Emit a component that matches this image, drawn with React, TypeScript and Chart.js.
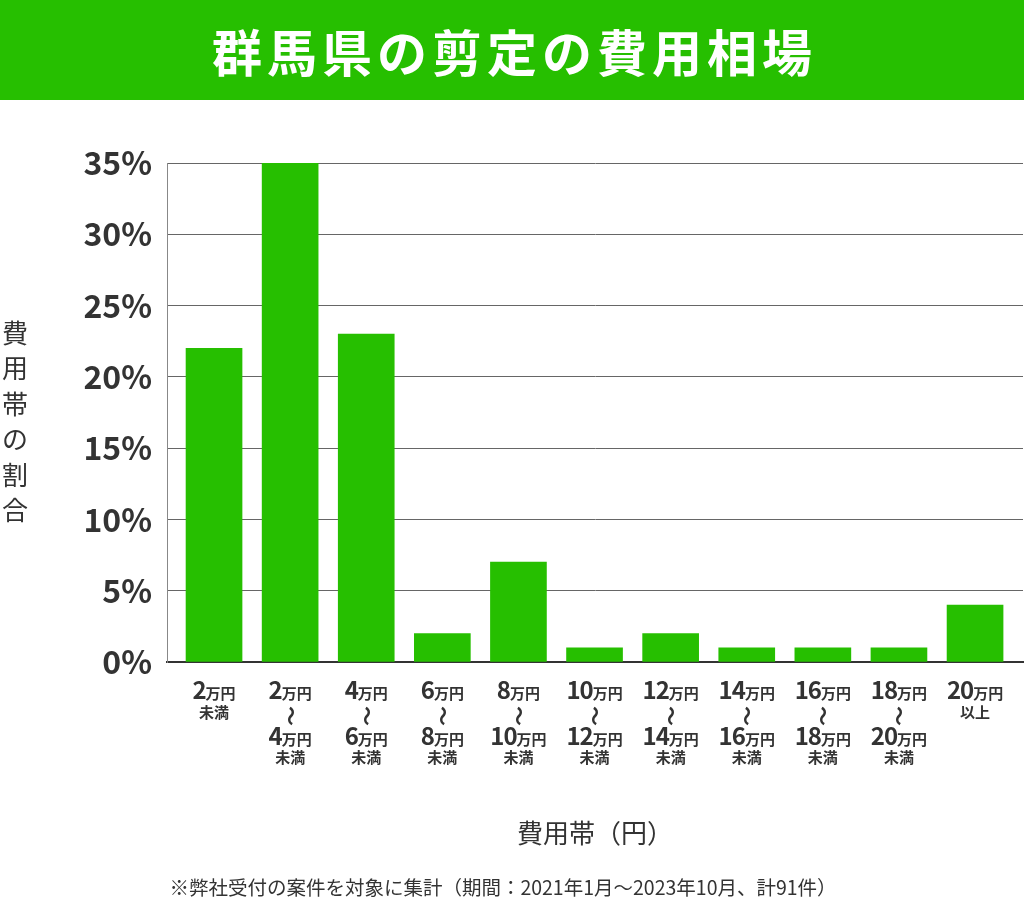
import React, { useEffect, useRef } from "react";
import { Chart, registerables } from "chart.js";

Chart.register(...registerables);

const title = "群馬県の剪定の費用相場";
const yAxisTitle = "費用帯の割合";
const xAxisTitle = "費用帯（円）";
const footnote = "※弊社受付の案件を対象に集計（期間：2021年1月～2023年10月、計91件）";

const rangeStart: (number | null)[] = [null, 2, 4, 6, 8, 10, 12, 14, 16, 18, 20];
const rangeEnd: (number | null)[] = [2, 4, 6, 8, 10, 12, 14, 16, 18, 20, null];
const categories = rangeStart.map((s, i) => {
  const e = rangeEnd[i];
  if (s === null) return `${e}万円未満`;
  if (e === null) return `${s}万円以上`;
  return `${s}万円～${e}万円未満`;
});
const shares = [22, 35, 23, 2, 7, 1, 2, 1, 1, 1, 4];
const yMax = 35;
const yStep = 5;

const GREEN = "#26bf00";
const TEXT = "#333333";
const FONT = '"Noto Sans CJK JP", "Noto Sans", sans-serif';

function drawAmount(ctx: CanvasRenderingContext2D, cx: number, baseline: number, n: number) {
  const num = String(n);
  ctx.font = `bold 24px ${FONT}`;
  (ctx as any).letterSpacing = "-1px";
  const wn = ctx.measureText(num).width;
  (ctx as any).letterSpacing = "0px";
  ctx.font = `bold 15px ${FONT}`;
  const wu = ctx.measureText("万円").width;
  const x0 = cx - (wn + wu) / 2;
  ctx.textAlign = "left";
  ctx.textBaseline = "alphabetic";
  ctx.font = `bold 24px ${FONT}`;
  (ctx as any).letterSpacing = "-1px";
  ctx.fillText(num, x0, baseline);
  (ctx as any).letterSpacing = "0px";
  ctx.font = `bold 15px ${FONT}`;
  ctx.fillText("万円", x0 + wn, baseline);
}

const decorPlugin = {
  id: "decor",
  beforeDraw(chart: any) {
    const ctx: CanvasRenderingContext2D = chart.ctx;
    ctx.save();
    ctx.fillStyle = "#ffffff";
    ctx.fillRect(0, 0, chart.width, chart.height);
    ctx.fillStyle = GREEN;
    ctx.fillRect(0, 0, chart.width, 100);
    ctx.fillStyle = "#ffffff";
    ctx.font = `bold 50px ${FONT}`;
    (ctx as any).letterSpacing = "5px";
    ctx.textAlign = "center";
    ctx.textBaseline = "middle";
    ctx.fillText(title, chart.width / 2 + 2.5, 53);
    (ctx as any).letterSpacing = "0px";
    ctx.restore();
  },
  afterDraw(chart: any) {
    const ctx: CanvasRenderingContext2D = chart.ctx;
    const xs = chart.scales.x;
    ctx.save();
    ctx.fillStyle = TEXT;
    categories.forEach((_, i) => {
      const cx = xs.getPixelForValue(i);
      const s = rangeStart[i];
      const e = rangeEnd[i];
      if (s === null || e === null) {
        drawAmount(ctx, cx, 699, (s === null ? e : s) as number);
        ctx.font = `bold 15px ${FONT}`;
        ctx.textAlign = "center";
        ctx.textBaseline = "middle";
        ctx.fillText(s === null ? "未満" : "以上", cx, 712);
      } else {
        drawAmount(ctx, cx, 699, s);
        ctx.save();
        ctx.translate(cx, 716);
        ctx.rotate(Math.PI / 2);
        ctx.font = `bold 20px ${FONT}`;
        ctx.textAlign = "center";
        ctx.textBaseline = "middle";
        ctx.fillText("〜", 0, 0);
        ctx.restore();
        drawAmount(ctx, cx, 745, e);
        ctx.font = `bold 15px ${FONT}`;
        ctx.textAlign = "center";
        ctx.textBaseline = "middle";
        ctx.fillText("未満", cx, 757);
      }
    });
    ctx.font = `26px ${FONT}`;
    ctx.textAlign = "center";
    ctx.textBaseline = "middle";
    Array.from(yAxisTitle).forEach((ch, k) => {
      ctx.fillText(ch, 15, 333 + k * 35.5);
    });
    ctx.font = `26px ${FONT}`;
    ctx.fillText(xAxisTitle, 595, 833);
    ctx.font = `19.5px ${FONT}`;
    ctx.fillText(footnote, 503, 888);
    ctx.restore();
  },
};

export default function App() {
  const ref = useRef<HTMLCanvasElement | null>(null);
  useEffect(() => {
    document.body.style.margin = "0";
    const chart = new Chart(ref.current as HTMLCanvasElement, {
      type: "bar",
      data: {
        datasets: [
          {
            data: shares.map((v, i) => ({ x: i, y: v })),
            backgroundColor: GREEN,
            borderWidth: 0,
            barThickness: 56,
          },
        ],
      },
      options: {
        responsive: false,
        animation: false,
        layout: { padding: { top: 163, right: 1, left: 0, bottom: 0 } },
        plugins: { legend: { display: false }, tooltip: { enabled: false } },
        scales: {
          x: {
            type: "linear",
            offset: false,
            min: -0.618,
            max: 10.63,
            grid: { display: false },
            border: { display: true, color: "#333333", width: 2 },
            ticks: { display: false },
            afterFit: (s: any) => {
              s.height = 245;
            },
          },
          y: {
            min: 0,
            max: yMax,
            ticks: {
              stepSize: yStep,
              padding: 15,
              color: TEXT,
              font: { family: FONT, size: 32, weight: "bold" },
              callback: (v: any) => `${v}%`,
            },
            grid: { color: "#666666", lineWidth: 1, drawTicks: false },
            border: { display: true, color: "#888888", width: 1 },
            afterFit: (s: any) => {
              s.width = 167;
            },
          },
        },
      },
      plugins: [decorPlugin],
    } as any);
    return () => chart.destroy();
  }, []);
  return (
    <div style={{ position: "absolute", left: 0, top: 0, width: 1024, height: 907 }}>
      <canvas ref={ref} width={1024} height={907} />
    </div>
  );
}
